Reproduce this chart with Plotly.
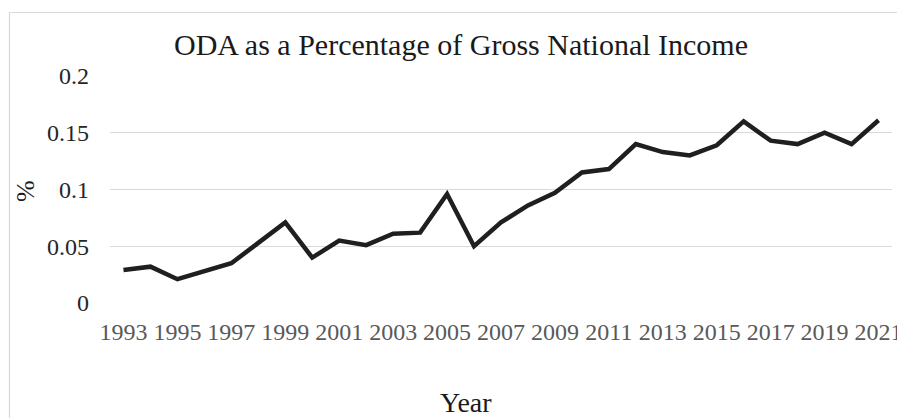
import plotly.graph_objects as go

years = list(range(1993, 2022))
oda_pct = [0.029, 0.032, 0.021, 0.028, 0.035, 0.053, 0.071, 0.040, 0.055, 0.051,
           0.061, 0.062, 0.096, 0.050, 0.071, 0.086, 0.097, 0.115, 0.118, 0.140,
           0.133, 0.130, 0.139, 0.160, 0.143, 0.140, 0.150, 0.140, 0.161]
y_ticks = [0, 0.05, 0.1, 0.15, 0.2]
y_tick_labels = ["0", "0.05", "0.1", "0.15", "0.2"]
x_ticks = list(range(1993, 2022, 2))

W, H = 897, 418
L, R, T, B = 110, 5, 76, 115
pw = W - L - R
ph = H - T - B

def px_x(x):
    return (x - L) / pw

def px_y(y):
    return (H - B - y) / ph

fig = go.Figure()
fig.add_trace(go.Scatter(x=years, y=oda_pct, mode="lines",
                         line=dict(color="#1f1f1f", width=4.5),
                         hoverinfo="x+y", showlegend=False))

font = "Liberation Serif"
fig.update_layout(
    width=W, height=H,
    margin=dict(l=L, r=R, t=T, b=B, autoexpand=False),
    paper_bgcolor="white", plot_bgcolor="white",
    font=dict(family=font),
    xaxis=dict(range=[1992.5, 2021.5], tickvals=x_ticks, ticktext=[str(v) for v in x_ticks],
               showgrid=False, zeroline=False, showline=False, ticks="",
               automargin=False, ticklabeloverflow="allow", ticklabelstandoff=12,
               tickfont=dict(size=24, color="#595959", family=font)),
    yaxis=dict(range=[0, 0.2], tickvals=y_ticks, ticktext=y_tick_labels,
               showgrid=True, gridcolor="#d9d9d9", gridwidth=1.3, zeroline=False,
               showline=False, ticks="", ticklabelstandoff=20, automargin=False,
               tickfont=dict(size=24, color="#262626", family=font)),
    shapes=[dict(type="rect", xref="paper", yref="paper",
                 x0=px_x(9.5), x1=px_x(W + 40), y0=px_y(H + 40), y1=px_y(12.5),
                 line=dict(color="#d9d9d9", width=1.2), fillcolor="rgba(0,0,0,0)", layer="below")],
    annotations=[
        dict(text="ODA as a Percentage of Gross National Income", xref="paper", yref="paper",
             x=px_x(461), y=px_y(44), xanchor="center", yanchor="middle", showarrow=False,
             font=dict(size=30, color="#1a1a1a", family=font)),
        dict(text="Year", xref="paper", yref="paper",
             x=px_x(466), y=px_y(403), xanchor="center", yanchor="middle", showarrow=False,
             font=dict(size=28, color="#1a1a1a", family=font)),
        dict(text="%", xref="paper", yref="paper", textangle=-90,
             x=px_x(25), y=px_y(191), xanchor="center", yanchor="middle", showarrow=False,
             font=dict(size=26, color="#1a1a1a", family=font)),
    ],
)

fig.write_html("out.html")
